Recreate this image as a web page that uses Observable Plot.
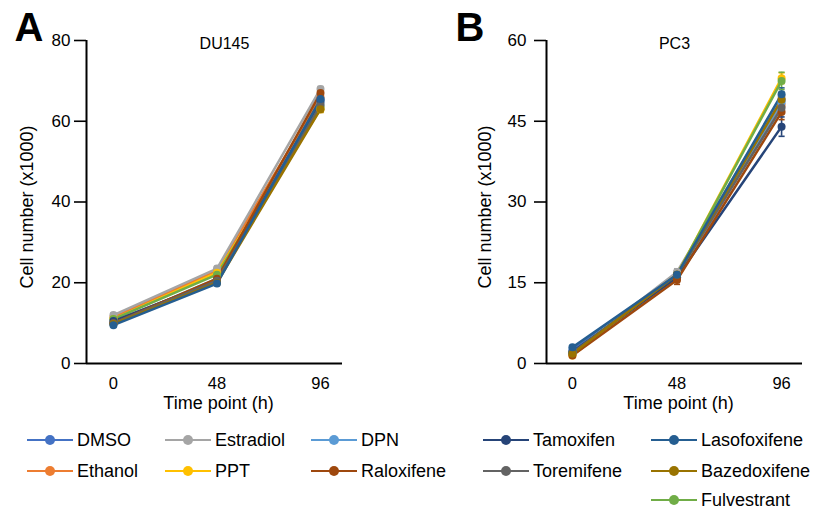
<!DOCTYPE html>
<html>
<head>
<meta charset="utf-8">
<script src="https://cdn.jsdelivr.net/npm/d3@7"></script>
<script src="https://cdn.jsdelivr.net/npm/@observablehq/plot@0.6"></script>
<style>
  html, body { margin: 0; padding: 0; background: #fff; }
  #root { position: relative; width: 813px; height: 510px; overflow: hidden; font-family: "Liberation Sans", Arial, sans-serif; }
  #panelA { position: absolute; left: 0; top: 0; }
  #panelB { position: absolute; left: 406px; top: 0; }
  #legend { position: absolute; left: 0; top: 413px; }
</style>
</head>
<body>
<div id="root">
  <div id="panelA"></div>
  <div id="panelB"></div>
  <div id="legend"></div>
</div>
<script>
// ---------- data ----------
const times = [0, 48, 96];
const series = ["DMSO", "Ethanol", "Estradiol", "PPT", "DPN", "Fulvestrant",
                "Tamoxifen", "Raloxifene", "Toremifene", "Bazedoxifene", "Lasofoxifene"];
const seriesColors = ["#4472C4", "#ED7D31", "#A5A5A5", "#FFC000", "#5B9BD5", "#70AD47",
                      "#264478", "#9E480E", "#636363", "#997300", "#255E91"];
const legendOrder = [
  ["DMSO", "Estradiol", "DPN", "Tamoxifen", "Lasofoxifene"],
  ["Ethanol", "PPT", "Raloxifene", "Toremifene", "Bazedoxifene"],
  [null, null, null, null, "Fulvestrant"]
];

// DU145 means (x1000) in series order, at 0 / 48 / 96 h
const du145Mean = [
  [10.5, 20.5, 65.5],
  [11.5, 23.0, 66.0],
  [12.0, 23.5, 68.0],
  [11.0, 22.5, 63.0],
  [10.0, 21.0, 64.5],
  [11.0, 22.0, 63.5],
  [10.5, 20.5, 65.0],
  [10.0, 21.0, 67.0],
  [10.0, 20.5, 64.0],
  [9.8, 20.0, 63.0],
  [9.5, 19.8, 65.5]
];
const du145Err = [
  [0.4, 0.5, 0.8], [0.4, 0.5, 0.8], [0.5, 0.6, 0.6], [0.4, 0.5, 0.8],
  [0.4, 0.5, 0.8], [0.4, 0.5, 0.8], [0.4, 0.5, 0.8], [0.4, 0.5, 1.0],
  [0.4, 0.5, 0.8], [0.4, 0.5, 0.8], [0.4, 0.5, 0.8]
];
// PC3 means (x1000)
const pc3Mean = [
  [2.5, 16.5, 49.0],
  [1.8, 16.0, 48.0],
  [2.0, 17.0, 49.5],
  [1.5, 16.5, 53.0],
  [2.0, 16.0, 48.5],
  [2.0, 16.5, 52.5],
  [2.2, 16.0, 44.0],
  [1.5, 15.5, 46.7],
  [2.0, 16.5, 47.5],
  [1.8, 16.5, 49.0],
  [3.0, 16.5, 50.0]
];
const pc3Err = [
  [0.3, 0.5, 1.0], [0.3, 0.5, 1.0], [0.3, 0.6, 1.0], [0.3, 0.5, 1.0],
  [0.3, 0.5, 1.0], [0.3, 0.5, 1.6], [0.3, 0.5, 1.8], [0.3, 0.8, 1.4],
  [0.3, 0.5, 1.0], [0.3, 0.5, 1.0], [0.3, 0.5, 1.2]
];
const du145YTicks = [0, 20, 40, 60, 80];
const pc3YTicks = [0, 15, 30, 45, 60];
const yLabel = "Cell number (x1000)";
const xLabel = "Time point (h)";

// ---------- chart ----------
function toRows(means, errs) {
  const rows = [];
  series.forEach((s, i) => times.forEach((t, j) => rows.push({series: s, t, v: means[i][j], e: errs[i][j]})));
  return rows;
}

function panel(cfg) {
  const rows = toRows(cfg.means, cfg.errs);
  const yMax = cfg.yTicks[cfg.yTicks.length - 1];
  const capHalf = 1.4;
  return Plot.plot({
    width: cfg.width, height: 415,
    marginLeft: cfg.marginLeft, marginRight: cfg.marginRight, marginTop: 40, marginBottom: 52,
    style: {fontFamily: '"Liberation Sans", Arial, sans-serif', fontSize: "16px", color: "#000", background: "#fff", overflow: "visible"},
    x: {domain: cfg.xDomain},
    y: {domain: [0, yMax]},
    color: {domain: series, range: seriesColors},
    marks: [
      Plot.axisY({ticks: cfg.yTicks, tickSize: 12, tickPadding: cfg.tickPadY, strokeWidth: 1.6, label: null, fontSize: 17}),
      Plot.axisX({ticks: times, tickSize: 0, tickPadding: 14, label: null, fontSize: 16.5}),
      Plot.ruleY([0], {strokeWidth: 2}),
      Plot.ruleX([cfg.xDomain[0]], {y1: 0, y2: yMax, strokeWidth: 2}),
      Plot.text([yLabel], {frameAnchor: "left", dx: cfg.yLabelDx, dy: 5, rotate: -90, textAnchor: "middle", lineAnchor: "middle", fontSize: 18}),
      Plot.text([xLabel], {frameAnchor: "bottom", dy: 40, dx: 4, textAnchor: "middle", lineAnchor: "middle", fontSize: 18}),
      Plot.text([cfg.title], {frameAnchor: "top", dy: 3, dx: cfg.titleDx, textAnchor: "middle", lineAnchor: "middle", fontSize: 16}),
      Plot.text([cfg.letter], {frameAnchor: "top-left", dx: cfg.letterDx, dy: -12, textAnchor: "start", lineAnchor: "middle", fontSize: 40, fontWeight: "bold"}),
      Plot.ruleX(rows, {x: "t", y1: d => d.v - d.e, y2: d => d.v + d.e, stroke: "series", strokeWidth: 1.6}),
      Plot.link(rows, {x1: d => d.t - capHalf, x2: d => d.t + capHalf, y1: d => d.v + d.e, y2: d => d.v + d.e, stroke: "series", strokeWidth: 1.6}),
      Plot.link(rows, {x1: d => d.t - capHalf, x2: d => d.t + capHalf, y1: d => d.v - d.e, y2: d => d.v - d.e, stroke: "series", strokeWidth: 1.6}),
      Plot.line(rows, {x: "t", y: "v", z: "series", stroke: "series", strokeWidth: 2.5}),
      Plot.dot(rows, {x: "t", y: "v", fill: "series", r: 4})
    ]
  });
}

document.getElementById("panelA").append(panel({
  means: du145Mean, errs: du145Err, yTicks: du145YTicks,
  width: 406, marginLeft: 86, marginRight: 64, xDomain: [-12.5, 106.2],
  tickPadY: 4, yLabelDx: -59, title: "DU145", titleDx: 10, letter: "A", letterDx: -72
}));
document.getElementById("panelB").append(panel({
  means: pc3Mean, errs: pc3Err, yTicks: pc3YTicks,
  width: 407, marginLeft: 140, marginRight: 11, xDomain: [-11.9, 105.6],
  tickPadY: 8, yLabelDx: -61, title: "PC3", titleDx: 0, letter: "B", letterDx: -91
}));

// ---------- legend ----------
const colorOf = d3.scaleOrdinal(series, seriesColors);
const colX = [27, 165, 311, 483, 651];
const rowY = [27, 58, 87];
const lsvg = d3.select("#legend").append("svg").attr("width", 813).attr("height", 97)
  .style("font-family", '"Liberation Sans", Arial, sans-serif');
legendOrder.forEach((row, r) => row.forEach((name, c) => {
  if (!name) return;
  const g = lsvg.append("g").attr("transform", `translate(${colX[c]},${rowY[r]})`);
  g.append("line").attr("x1", 0).attr("x2", 46).attr("y1", 0).attr("y2", 0)
    .attr("stroke", colorOf(name)).attr("stroke-width", 2.2);
  g.append("circle").attr("cx", 23).attr("cy", 0).attr("r", 5).attr("fill", colorOf(name));
  g.append("text").attr("x", 50).attr("y", 0).attr("dy", "0.35em")
    .attr("font-size", 18).attr("fill", "#000").text(name);
}));
</script>
</body>
</html>
